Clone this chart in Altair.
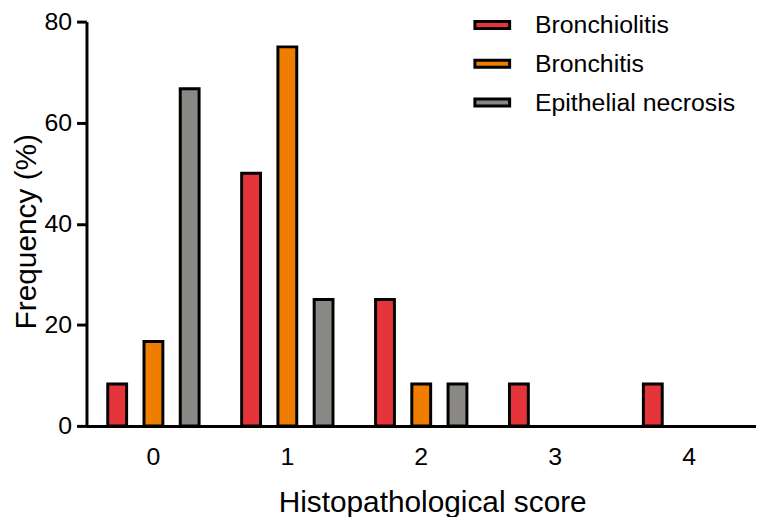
import altair as alt
import pandas as pd

scores = ["0", "1", "2", "3", "4"]
series = ["Bronchiolitis", "Bronchitis", "Epithelial necrosis"]
bronchiolitis = [8.3, 50.0, 25.0, 8.3, 8.3]
bronchitis = [16.7, 75.0, 8.3, 0.0, 0.0]
necrosis = [66.7, 25.0, 8.3, 0.0, 0.0]
colors = ["#E5353B", "#EE7D00", "#8A8885"]
y_ticks = [0, 20, 40, 60, 80]

rows = []
for name, vals in zip(series, [bronchiolitis, bronchitis, necrosis]):
    for s, v in zip(scores, vals):
        rows.append({"score": s, "series": name, "freq": v})
df = pd.DataFrame(rows)

FONT = "Liberation Sans"

chart = alt.Chart(df).transform_filter(
    alt.datum.freq > 0
).mark_bar(stroke="black", strokeWidth=3, strokeJoin="miter").encode(
    x=alt.X(
        "score:N", sort=scores,
        scale=alt.Scale(domain=scores, paddingInner=0.188, paddingOuter=0.094),
        axis=alt.Axis(
            title="Histopathological score", labelAngle=0, ticks=False, tickSize=0,
            labelPadding=19, labelFontSize=25, titleFontSize=30,
            titleX=348, titleY=86, titleAlign="center", titleBaseline="alphabetic",
        ),
    ),
    xOffset=alt.XOffset(
        "series:N", sort=series,
        scale=alt.Scale(domain=series, paddingInner=0.48, paddingOuter=0.24),
    ),
    y=alt.Y(
        "freq:Q",
        scale=alt.Scale(domain=[0, 80], nice=False),
        axis=alt.Axis(
            title="Frequency (%)", values=y_ticks, tickSize=10, tickWidth=3,
            labelPadding=5, labelFontSize=25, titleFontSize=30,
            titleAngle=-90, titleX=-51, titleY=211, titleAlign="center",
            titleBaseline="alphabetic",
        ),
    ),
    color=alt.Color(
        "series:N", sort=series,
        scale=alt.Scale(domain=series, range=colors),
        legend=alt.Legend(
            title=None, orient="none", legendX=389.5, legendY=-15.5, padding=0,
            symbolType="M-1,-0.2H1V0.2H-1Z", symbolSize=1225,
            symbolStrokeColor="black", symbolStrokeWidth=3, symbolOpacity=1,
            labelFontSize=25, labelOffset=24, rowPadding=7, labelLimit=400,
            labelColor="black", labelFont=FONT,
        ),
    ),
).properties(
    width=674, height=407,
    autosize=alt.AutoSizeParams(type="none"),
    padding={"left": 79, "top": 12, "right": 0, "bottom": 90},
).configure_view(stroke=None).configure_axis(
    grid=False, domainColor="black", domainWidth=3, tickColor="black",
    labelColor="black", titleColor="black", labelFont=FONT, titleFont=FONT,
    titleFontWeight="normal",
)

chart.save("out.html", embed_options={"renderer": "svg", "actions": False})
